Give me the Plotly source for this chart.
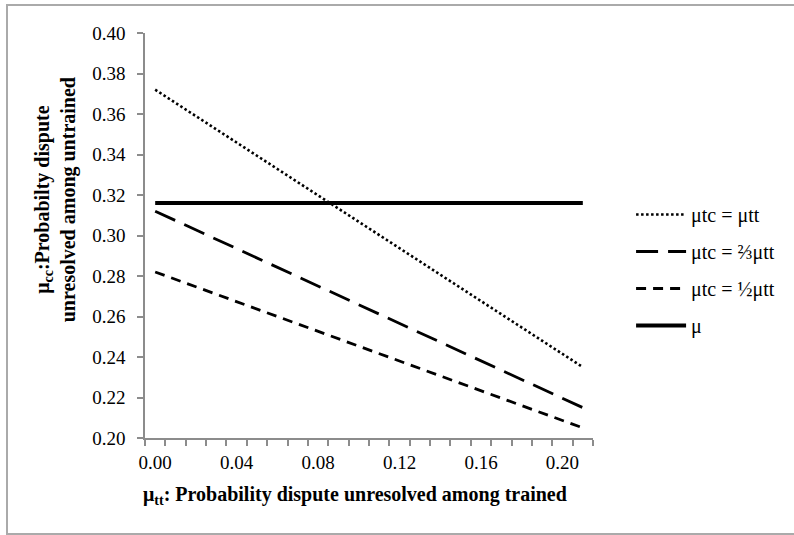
import plotly.graph_objects as go

# Data (endpoints of straight lines)
x_vals = [0.00, 0.21]
mu_tc_eq_mu_tt = [0.372, 0.235]
mu_tc_two_thirds = [0.312, 0.215]
mu_tc_half = [0.282, 0.205]
mu_overall = [0.316, 0.316]

names = ["\u03bctc = \u03bctt", "\u03bctc = \u2154\u03bctt", "\u03bctc = \u00bd\u03bctt", "\u03bc"]

FONT = "Liberation Serif, Times New Roman, serif"

fig = go.Figure()
styles = [
    (mu_tc_eq_mu_tt, dict(color="black", width=2.6, dash="2.5px,2.5px")),
    (mu_tc_two_thirds, dict(color="black", width=2.8, dash="22px,10px")),
    (mu_tc_half, dict(color="black", width=2.8, dash="10px,7px")),
    (mu_overall, dict(color="black", width=4)),
]
for i, (ys, line) in enumerate(styles):
    fig.add_trace(go.Scatter(x=x_vals, y=ys, mode="lines", line=line,
                             name=names[i], legendgroup=f"g{i}"))

fig.update_layout(
    width=794, height=535,
    margin=dict(l=145, r=201, t=33, b=97),
    paper_bgcolor="white", plot_bgcolor="white",
    font=dict(family=FONT, size=19, color="black"),
    showlegend=True,
    legend=dict(x=1.085, y=0.60, xanchor="left", yanchor="top",
                font=dict(family=FONT, size=20), tracegroupgap=8,
                itemwidth=50, bgcolor="rgba(0,0,0,0)"),
    xaxis=dict(range=[-0.005, 0.215], tickmode="linear", tick0=0, dtick=0.04,
               tickformat=".2f", ticks="", showgrid=False, zeroline=False,
               showline=True, linecolor="#8c8c8c", linewidth=1.5,
               ticklabelstandoff=6,
               minor=dict(ticks="outside", ticklen=6, tickcolor="#8c8c8c",
                          tickwidth=1.5, tick0=-0.005, dtick=0.01, showgrid=False),
               tickfont=dict(family=FONT, size=19)),
    yaxis=dict(range=[0.20, 0.40], tickmode="linear", tick0=0.20, dtick=0.02,
               tickformat=".2f", ticks="outside", ticklen=6, tickcolor="#8c8c8c",
               tickwidth=1.5, showgrid=False, zeroline=False,
               showline=True, linecolor="#8c8c8c", linewidth=1.5,
               ticklabelstandoff=8,
               tickfont=dict(family=FONT, size=19)),
)

fig.add_annotation(text="<b>\u03bc<sub>tt</sub>: Probability dispute unresolved among trained</b>",
                   xref="paper", yref="paper", x=0.469, y=-0.141,
                   xanchor="center", yanchor="middle", showarrow=False,
                   font=dict(family=FONT, size=20))
fig.add_annotation(text="<b>\u03bc<sub>cc</sub>:Probabilty dispute<br>unresolved among untrained</b>",
                   xref="paper", yref="paper", x=-0.2, y=0.588,
                   xanchor="center", yanchor="middle", showarrow=False, textangle=-90,
                   font=dict(family=FONT, size=20))

fig.add_shape(type="rect", xref="paper", yref="paper",
              x0=(7 - 145) / 448, x1=(800 - 145) / 448,
              y0=(438 - 534) / 405, y1=(438 - 5) / 405,
              line=dict(color="#aaaaaa", width=2), fillcolor="rgba(0,0,0,0)", layer="below")

fig.write_html("out.html", config={"displayModeBar": False},
               post_script="document.body.style.margin='0';document.body.style.padding='0';")
